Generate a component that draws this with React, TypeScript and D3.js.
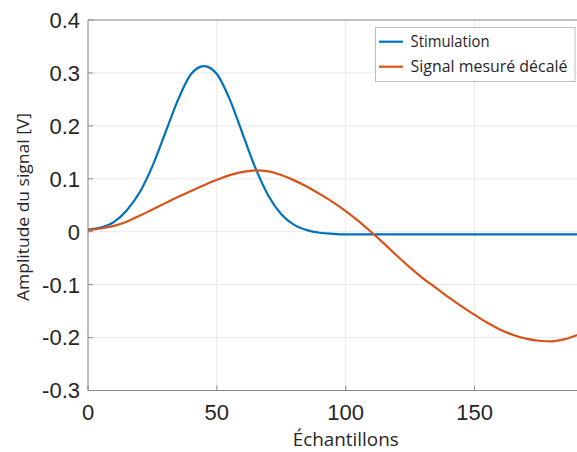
import React from "react";
import * as d3 from "d3";

const samples = [0, 5, 10, 15, 20, 25, 30, 35, 40, 45, 50, 55, 60, 65, 70, 75, 80, 85, 90, 95, 100, 105, 110, 115, 120, 125, 130, 135, 140, 145, 150, 155, 160, 165, 170, 175, 180, 185, 190, 195, 200];
const stimulation = [0.004, 0.008, 0.018, 0.040, 0.074, 0.124, 0.187, 0.250, 0.298, 0.313, 0.298, 0.250, 0.185, 0.120, 0.068, 0.033, 0.013, 0.003, -0.002, -0.004, -0.005, -0.005, -0.005, -0.005, -0.005, -0.005, -0.005, -0.005, -0.005, -0.005, -0.005, -0.005, -0.005, -0.005, -0.005, -0.005, -0.005, -0.005, -0.005, -0.005, -0.005];
const mesure = [0.003, 0.006, 0.011, 0.019, 0.030, 0.042, 0.054, 0.066, 0.077, 0.088, 0.098, 0.107, 0.113, 0.116, 0.114, 0.107, 0.097, 0.085, 0.071, 0.056, 0.039, 0.020, -0.001, -0.023, -0.046, -0.068, -0.088, -0.106, -0.124, -0.141, -0.157, -0.172, -0.185, -0.195, -0.202, -0.206, -0.207, -0.203, -0.195, -0.186, -0.175];
const xTicks = [0, 50, 100, 150];
const yTicks = [-0.3, -0.2, -0.1, 0, 0.1, 0.2, 0.3, 0.4];
const seriesNames = ["Stimulation", "Signal mesuré décalé"];
const seriesColors = ["#0072BD", "#D95319"];

const W = 577, H = 452;
const L = 88, R = 603.4, T = 20, B = 390.5;

export default function App() {
  const x = d3.scaleLinear().domain([0, 200]).range([L, R]);
  const y = d3.scaleLinear().domain([-0.3, 0.4]).range([B, T]);
  const line = d3.line<[number, number]>().x(d => x(d[0])).y(d => y(d[1])).curve(d3.curveMonotoneX);
  const series = [stimulation, mesure].map(v => samples.map((s, i) => [s, v[i]] as [number, number]));
  const fmtY = (v: number) => (Math.abs(v) < 1e-9 ? "0" : v.toFixed(1));
  const fmtX = (v: number) => String(v);
  const tickFont = "'Liberation Sans', Arial, sans-serif";
  const labelFont = "'Open Sans', Lato, sans-serif";
  const legendLengths = [79, 157];
  return (
    <svg width={W} height={H} style={{ position: "absolute", left: 0, top: 0, background: "#fff" }}>
      <defs>
        <clipPath id="plot"><rect x={L} y={T} width={R - L} height={B - T} /></clipPath>
      </defs>
      <rect x={0} y={0} width={W} height={H} fill="#fff" />
      {xTicks.map(t => (
        <line key={"gx" + t} x1={x(t)} x2={x(t)} y1={T} y2={B} stroke="#e8e8e8" strokeWidth={1} />
      ))}
      {yTicks.map(t => (
        <line key={"gy" + t} x1={L} x2={R} y1={y(t)} y2={y(t)} stroke="#e8e8e8" strokeWidth={1} />
      ))}
      <line x1={L} x2={R} y1={T} y2={T} stroke="#8a8a8a" strokeWidth={1} />
      <line x1={L} x2={R} y1={B} y2={B} stroke="#8a8a8a" strokeWidth={1} />
      <line x1={L} x2={L} y1={T} y2={B} stroke="#8a8a8a" strokeWidth={1} />
      {xTicks.map(t => (
        <line key={"tx" + t} x1={x(t)} x2={x(t)} y1={B} y2={B - 5} stroke="#8a8a8a" strokeWidth={1} />
      ))}
      {yTicks.map(t => (
        <line key={"ty" + t} x1={L} x2={L + 5} y1={y(t)} y2={y(t)} stroke="#8a8a8a" strokeWidth={1} />
      ))}
      <g clipPath="url(#plot)">
        {series.map((s, i) => (
          <path key={i} d={line(s) || ""} fill="none" stroke={seriesColors[i]} strokeWidth={2.2} strokeLinejoin="round" />
        ))}
      </g>
      {yTicks.map(t => (
        <text key={"ly" + t} x={80} y={y(t)} dy="0.36em" textAnchor="end" fontFamily={tickFont} fontSize={22} fill="#262626">{fmtY(t)}</text>
      ))}
      {xTicks.map(t => (
        <text key={"lx" + t} x={x(t)} y={420} textAnchor="middle" fontFamily={tickFont} fontSize={22} fill="#262626">{fmtX(t)}</text>
      ))}
      <text x={(L + R) / 2} y={446} textAnchor="middle" fontFamily={labelFont} fontSize={17.5} fill="#262626" textLength={106} lengthAdjust="spacingAndGlyphs">Échantillons</text>
      <text transform={`translate(29,207) rotate(-90)`} textAnchor="middle" fontFamily={labelFont} fontSize={17} fill="#262626" textLength={188} lengthAdjust="spacingAndGlyphs">Amplitude du signal [V]</text>
      <rect x={375.5} y={27.5} width={199.5} height={54} fill="#fff" stroke="#bdbdbd" strokeWidth={1} />
      {seriesNames.map((n, i) => (
        <g key={n}>
          <line x1={379} x2={403} y1={41.7 + i * 25} y2={41.7 + i * 25} stroke={seriesColors[i]} strokeWidth={2.2} />
          <text x={410.5} y={41.7 + i * 25} dy="0.35em" fontFamily={labelFont} fontSize={15.5} fill="#262626" textLength={legendLengths[i]} lengthAdjust="spacingAndGlyphs">{n}</text>
        </g>
      ))}
    </svg>
  );
}
